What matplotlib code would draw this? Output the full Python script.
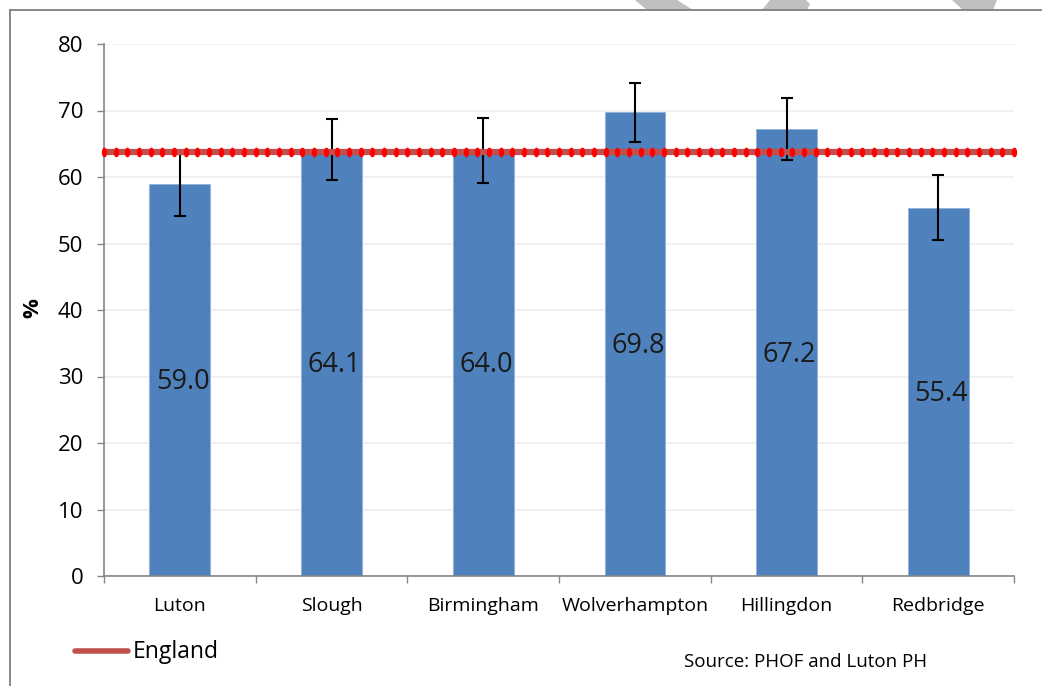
import matplotlib
matplotlib.use("Agg")
import matplotlib.pyplot as plt
import numpy as np
from matplotlib.path import Path
from matplotlib.lines import Line2D
from matplotlib.patches import Polygon

plt.rcParams['font.family'] = ['Open Sans', 'DejaVu Sans']

# ---- data ----
areas = ["Luton", "Slough", "Birmingham", "Wolverhampton", "Hillingdon", "Redbridge"]
values = [59.0, 64.1, 64.0, 69.8, 67.2, 55.4]
err_low = [54.1, 59.5, 59.1, 65.3, 62.6, 50.5]
err_high = [63.9, 68.7, 68.9, 74.2, 71.9, 60.3]
england = 63.8
yticks = [0, 10, 20, 30, 40, 50, 60, 70, 80]

W, H = 1042, 686
fig = plt.figure(figsize=(W / 100, H / 100), dpi=100)
ax = fig.add_axes([104 / W, 1 - 576 / H, 910 / W, 532 / H])

x = np.arange(len(areas))
vals = np.array(values)
yerr = np.array([vals - np.array(err_low), np.array(err_high) - vals])

ax.bar(x, vals, width=0.4, color='#4f81bd', edgecolor='#8eb0dc', linewidth=0.6, zorder=2)
ax.errorbar(x, vals, yerr=yerr, fmt='none', ecolor='black', elinewidth=1.5,
            capsize=4.5, capthick=1.5, zorder=3)

for xi, v in zip(x, values):
    ax.text(xi + 0.02, v / 2 - 0.3, f"{v:.1f}", ha='center', va='center', fontsize=19.5,
            color='#1a1a1a', zorder=5)

# England line: dark red band with red dots
xl = np.array([-0.5, 5.5])
ax.plot(xl, [england, england], color='#c0504d', lw=4.5, zorder=4,
        solid_capstyle='butt', clip_on=False)
t = np.linspace(0, 2 * np.pi, 40)
ell = Path(np.column_stack([0.55 * np.cos(t), np.sin(t)]))
xd = np.linspace(-0.5, 5.5, 79)
ax.plot(xd, np.full_like(xd, england), linestyle='none', marker=ell, markersize=7,
        color='#ff0000', markeredgewidth=0, zorder=4.5, clip_on=False)

ax.set_xlim(-0.5, 5.5)
ax.set_ylim(0, 80)
ax.set_yticks(yticks)
ax.set_yticklabels([str(v) for v in yticks], fontsize=16)
ax.set_xticks(x)
ax.set_xticklabels(areas, fontsize=14)
ax.tick_params(axis='x', length=0, pad=15)
ax.set_xticks(np.arange(-0.5, 6, 1), minor=True)
ax.tick_params(axis='x', which='minor', length=5, color='#868686', width=1)
ax.tick_params(axis='y', length=5, color='#868686', width=1, pad=10)

ax.grid(axis='y', color='#eeeeee', linewidth=1.2, zorder=0)
ax.set_axisbelow(True)
for s in ['top', 'right']:
    ax.spines[s].set_visible(False)
for s in ['left', 'bottom']:
    ax.spines[s].set_color('#868686')
    ax.spines[s].set_linewidth(1.2)

fig.text(33 / W, 1 - 308 / H, '%', rotation=90, ha='center', va='center',
         fontsize=16, fontweight='bold')

# legend
fig.add_artist(Line2D([75 / W, 128 / W], [1 - 651 / H, 1 - 651 / H], color='#c0504d',
                      lw=4, solid_capstyle='round'))
fig.text(133 / W, 1 - 652 / H, 'England', ha='left', va='center', fontsize=16.5)

fig.text(684 / W, 1 - 662 / H, 'Source: PHOF and Luton PH', ha='left', va='center',
         fontsize=13.5)

# outer frame
fig.add_artist(Line2D([10 / W, 1.0], [1 - 10 / H, 1 - 10 / H], color='#7f7f7f', lw=1.3))
fig.add_artist(Line2D([10 / W, 10 / W], [1 - 10 / H, 0.0], color='#7f7f7f', lw=1.3))

# faint grey shapes at the top edge
for pts in [[(635, 0), (677, 0), (693, 10), (647, 10)],
            [(770, 0), (806, 0), (810, 4), (807, 10), (762, 10)],
            [(952, 0), (997, 0), (993, 10), (963, 10)]]:
    fig.add_artist(Polygon([(px / W, 1 - py / H) for px, py in pts], closed=True,
                           facecolor='#c0c0c0', edgecolor='none', transform=fig.transFigure))

fig.savefig('out.png', dpi=100)
